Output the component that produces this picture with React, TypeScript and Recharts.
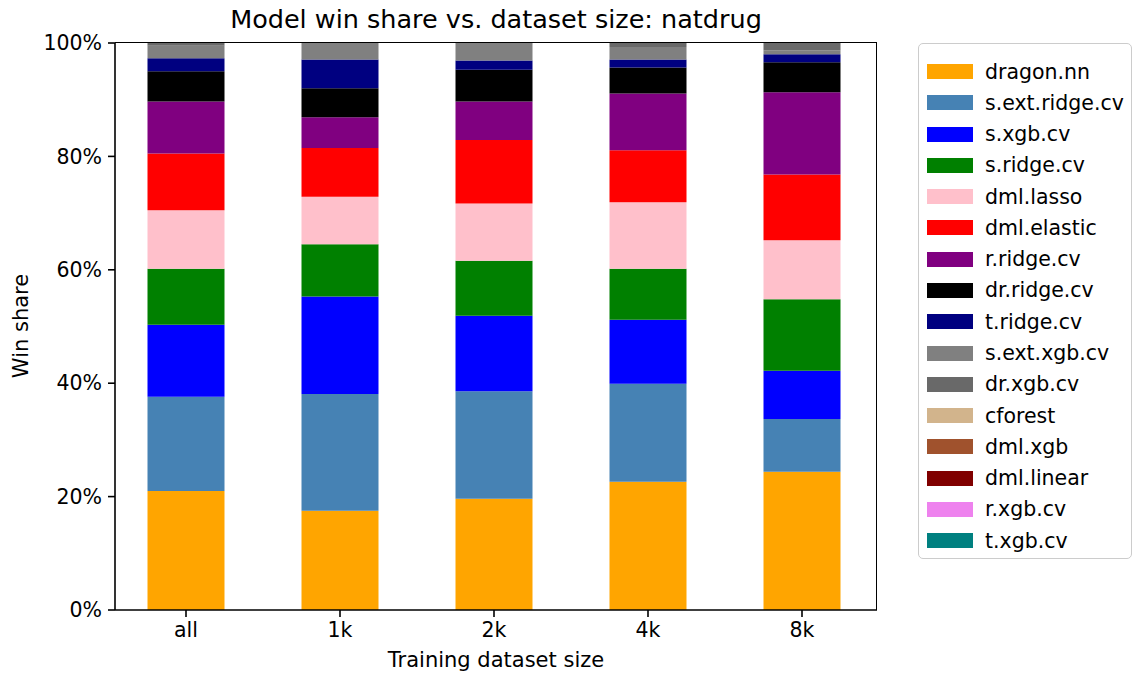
import { BarChart, Bar, XAxis, YAxis } from "recharts";

const sizes = ["all", "1k", "2k", "4k", "8k"];

const models = [
  "dragon.nn",
  "s.ext.ridge.cv",
  "s.xgb.cv",
  "s.ridge.cv",
  "dml.lasso",
  "dml.elastic",
  "r.ridge.cv",
  "dr.ridge.cv",
  "t.ridge.cv",
  "s.ext.xgb.cv",
  "dr.xgb.cv",
  "cforest",
  "dml.xgb",
  "dml.linear",
  "r.xgb.cv",
  "t.xgb.cv",
];

const colors = [
  "#ffa500",
  "#4682b4",
  "#0000ff",
  "#008000",
  "#ffc0cb",
  "#ff0000",
  "#800080",
  "#000000",
  "#000080",
  "#808080",
  "#696969",
  "#d2b48c",
  "#a0522d",
  "#800000",
  "#ee82ee",
  "#008080",
];

// win share (%) per dataset size, same order as models
const shareAll = [21.0, 16.6, 12.7, 9.9, 10.3, 10.0, 9.2, 5.3, 2.3, 2.2, 0.5, 0, 0, 0, 0, 0];
const share1k = [17.5, 20.6, 17.2, 9.2, 8.4, 8.6, 5.4, 5.1, 5.1, 2.9, 0, 0, 0, 0, 0, 0];
const share2k = [19.6, 19.0, 13.3, 9.7, 10.1, 11.2, 6.8, 5.6, 1.6, 3.1, 0, 0, 0, 0, 0, 0];
const share4k = [22.6, 17.3, 11.3, 9.0, 11.7, 9.2, 10.0, 4.6, 1.4, 2.2, 0.7, 0, 0, 0, 0, 0];
const share8k = [24.4, 9.3, 8.5, 12.6, 10.4, 11.6, 14.5, 5.3, 1.4, 0.7, 1.3, 0, 0, 0, 0, 0];

const yTicks = [0, 20, 40, 60, 80, 100];

const shares = [shareAll, share1k, share2k, share4k, share8k];
const data = sizes.map((size, i) => {
  const row: Record<string, string | number> = { size };
  models.forEach((m, j) => {
    row[m] = shares[i][j];
  });
  return row;
});

const font = "'DejaVu Sans', sans-serif";
const fs = 20.5;

function LegendBox() {
  return (
    <div
      style={{
        position: "absolute",
        left: 918,
        top: 43,
        border: "1.3px solid #cccccc",
        borderRadius: 5,
        width: 214,
        height: 516,
        boxSizing: "border-box",
        padding: "12px 0 0 8px",
        background: "#fff",
      }}
    >
      {models.map((m, i) => (
        <div key={m} style={{ display: "flex", alignItems: "center", height: 31.27 }}>
          <span style={{ width: 46, height: 15, background: colors[i], display: "inline-block", flex: "none" }} />
          <span style={{ marginLeft: 12, fontSize: fs, color: "#000", whiteSpace: "nowrap" }}>{m}</span>
        </div>
      ))}
    </div>
  );
}

export default function App() {
  return (
    <div style={{ position: "absolute", left: 0, top: 0, width: 1143, height: 679, background: "#fff", fontFamily: font }}>
      <BarChart
        width={1143}
        height={679}
        data={data}
        margin={{ top: 43, right: 266, left: 45, bottom: 29 }}
        barCategoryGap="25%"
        style={{ position: "absolute", left: 0, top: 0 }}
      >
        <XAxis
          dataKey="size"
          height={40}
          padding={{ left: -6, right: -2 }}
          axisLine={{ stroke: "#000", strokeWidth: 1.6 }}
          tickLine={{ stroke: "#000", strokeWidth: 1.6 }}
          tickSize={7}
          tickMargin={5}
          tick={{ fill: "#000", fontSize: fs, fontFamily: font }}
        />
        <YAxis
          width={70}
          domain={[0, 100]}
          ticks={yTicks}
          tickFormatter={(v: number) => `${v}%`}
          axisLine={{ stroke: "#000", strokeWidth: 1.6 }}
          tickLine={{ stroke: "#000", strokeWidth: 1.6 }}
          tickSize={7}
          tickMargin={6}
          tick={{ fill: "#000", fontSize: fs, fontFamily: font }}
          allowDataOverflow
        />
        {models.map((m, i) => (
          <Bar key={m} dataKey={m} stackId="a" fill={colors[i]} isAnimationActive={false} />
        ))}
      </BarChart>
      <div
        style={{
          position: "absolute",
          left: 115,
          top: 42,
          width: 762,
          height: 568,
          boxSizing: "border-box",
          borderTop: "1.6px solid #000",
          borderRight: "1.6px solid #000",
          pointerEvents: "none",
        }}
      />
      <div
        style={{
          position: "absolute",
          left: 115,
          width: 762,
          top: 4,
          textAlign: "center",
          fontSize: 25.5,
          color: "#000",
          whiteSpace: "nowrap",
        }}
      >
        Model win share vs. dataset size: natdrug
      </div>
      <div
        style={{
          position: "absolute",
          left: 115,
          width: 762,
          top: 648,
          textAlign: "center",
          fontSize: 21,
          color: "#000",
          whiteSpace: "nowrap",
        }}
      >
        Training dataset size
      </div>
      <div
        style={{
          position: "absolute",
          left: 21,
          top: 326,
          transform: "translate(-50%, -50%) rotate(-90deg)",
          fontSize: 21,
          color: "#000",
          whiteSpace: "nowrap",
        }}
      >
        Win share
      </div>
      <LegendBox />
    </div>
  );
}
